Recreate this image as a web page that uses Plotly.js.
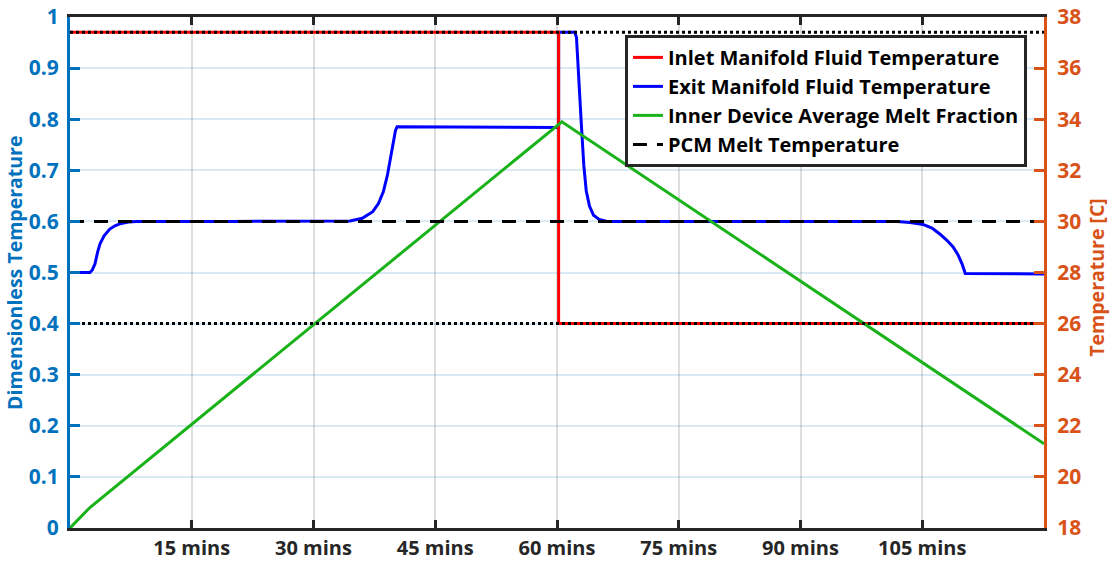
<!DOCTYPE html>
<html>
<head>
<meta charset="utf-8">
<script src="https://cdn.plot.ly/plotly-3.0.1.min.js"></script>
<style>html,body{margin:0;padding:0;background:#fff;}#chart{width:1110px;height:565px;}</style>
</head>
<body>
<div id="chart"></div>
<script>
// Time axis (minutes)
const xTickVals = [15, 30, 45, 60, 75, 90, 105];
const xTickText = ["15 mins", "30 mins", "45 mins", "60 mins", "75 mins", "90 mins", "105 mins"];

// Inlet manifold fluid temperature (dimensionless)
const inletT = [0, 60.2, 60.2, 120];
const inletV = [0.97, 0.97, 0.4, 0.4];

// Exit manifold fluid temperature (dimensionless)
const exitT = [0, 2.45, 2.75, 3.08, 3.4, 3.7, 4.2, 4.9, 5.6, 6.3, 7.2, 8.2, 20, 34.5,
  36.0, 37.3, 38.0, 38.6, 39.1, 39.4, 39.7, 39.9, 40.1, 40.3, 50, 60.2,
  60.2, 62.0, 62.2, 62.4, 62.6, 62.8, 63.0, 63.3, 63.6, 64.0, 64.5, 65.2, 66.2, 80, 95, 101.9,
  103.5, 105.1, 106.2, 107.2, 108.1, 108.8, 109.4, 109.9, 110.3, 120];
const exitV = [0.5, 0.5, 0.505, 0.517, 0.54, 0.556, 0.572, 0.585, 0.592, 0.596, 0.599, 0.6, 0.6, 0.601,
  0.606, 0.619, 0.635, 0.658, 0.69, 0.717, 0.745, 0.765, 0.778, 0.785, 0.785, 0.784,
  0.97, 0.97, 0.97, 0.96, 0.91, 0.84, 0.79, 0.71, 0.66, 0.63, 0.612, 0.604, 0.6, 0.6, 0.6, 0.6,
  0.598, 0.594, 0.587, 0.575, 0.562, 0.55, 0.535, 0.517, 0.498, 0.497];

// Inner device average melt fraction
const meltT = [0, 2.45, 60.6, 120];
const meltV = [0, 0.04, 0.795, 0.165];

// PCM melt temperature (deg C, right axis)
const pcmT = [0, 120];
const pcmC = [30, 30];

// Dotted reference levels (dimensionless)
const upperLimitV = [0.97, 0.97];
const lowerLimitV = [0.4, 0.4];
const limitT = [0, 120];

const FONT = "'Open Sans', sans-serif";
const BLUE_AX = "#0072BD";
const ORANGE_AX = "#D95319";

const traces = [
  {x: exitT, y: exitV, type: "scatter", mode: "lines", name: "Exit Manifold Fluid Temperature",
   line: {color: "#0000FF", width: 3}, legendrank: 2, hoverinfo: "skip"},
  {x: inletT, y: inletV, type: "scatter", mode: "lines", name: "Inlet Manifold Fluid Temperature",
   line: {color: "#FF0000", width: 3}, legendrank: 1, hoverinfo: "skip"},
  {x: meltT, y: meltV, type: "scatter", mode: "lines", name: "Inner Device Average Melt Fraction",
   line: {color: "#19B319", width: 3}, legendrank: 3, hoverinfo: "skip"},
  {x: limitT, y: upperLimitV, type: "scatter", mode: "lines", showlegend: false,
   line: {color: "#000000", width: 3, dash: "3px,3px"}, hoverinfo: "skip"},
  {x: limitT, y: lowerLimitV, type: "scatter", mode: "lines", showlegend: false,
   line: {color: "#000000", width: 3, dash: "3px,3px"}, hoverinfo: "skip"},
  {x: pcmT, y: pcmC, yaxis: "y2", type: "scatter", mode: "lines", name: "PCM Melt Temperature",
   line: {color: "#000000", width: 3, dash: "14px,10px"}, legendrank: 4, hoverinfo: "skip"}
];

const layout = {
  width: 1110, height: 565,
  margin: {l: 70, r: 66, t: 17, b: 37, pad: 0},
  paper_bgcolor: "#ffffff", plot_bgcolor: "#ffffff",
  font: {family: FONT, size: 19, color: "#262626", weight: "bold"},
  showlegend: true,
  legend: {
    x: 0.9825, xanchor: "right", y: 0.965, yanchor: "top",
    bgcolor: "#ffffff", bordercolor: "#262626", borderwidth: 3,
    font: {family: FONT, size: 20, color: "#000000", weight: "bold"},
    tracegroupgap: 0
  },
  xaxis: {
    range: [0, 120], tickvals: xTickVals, ticktext: xTickText,
    showgrid: true, gridcolor: "rgba(0,0,0,0.13)", gridwidth: 2,
    zeroline: false, showline: true, linecolor: "#262626", linewidth: 3,
    mirror: "ticks", ticks: "inside", ticklen: 8, tickwidth: 3, tickcolor: "#262626",
    tickfont: {family: FONT, size: 20, color: "#262626", weight: "bold"},
    ticklabeloverflow: "allow",
    fixedrange: true
  },
  yaxis: {
    range: [0, 1], dtick: 0.1, tick0: 0,
    showgrid: true, gridcolor: "rgba(0,114,189,0.15)", gridwidth: 2,
    zeroline: false, showline: true, linecolor: BLUE_AX, linewidth: 3,
    ticks: "inside", ticklen: 10, tickwidth: 3, tickcolor: BLUE_AX,
    tickfont: {family: FONT, size: 21, color: BLUE_AX, weight: "bold"},
    ticklabelstandoff: 4, ticklabeloverflow: "allow",
    fixedrange: true
  },
  yaxis2: {
    range: [18, 38], dtick: 2, tick0: 18, overlaying: "y", side: "right",
    showgrid: false, zeroline: false, showline: true, linecolor: ORANGE_AX, linewidth: 3,
    ticks: "inside", ticklen: 10, tickwidth: 3, tickcolor: ORANGE_AX,
    tickfont: {family: FONT, size: 21, color: ORANGE_AX, weight: "bold"},
    ticklabelstandoff: 6, ticklabeloverflow: "allow",
    fixedrange: true
  },
  annotations: [
    {text: "Dimensionless Temperature", xref: "paper", yref: "paper",
     x: -0.057, y: 0.5, xanchor: "center", yanchor: "middle", textangle: -90, showarrow: false,
     font: {family: FONT, size: 19.5, color: BLUE_AX, weight: "bold"}},
    {text: "Temperature [C]", xref: "paper", yref: "paper",
     x: 1.0545, y: 0.49, xanchor: "center", yanchor: "middle", textangle: -90, showarrow: false,
     font: {family: FONT, size: 19.5, color: ORANGE_AX, weight: "bold"}}
  ]
};

Plotly.newPlot("chart", traces, layout, {staticPlot: true, displayModeBar: false});
</script>
</body>
</html>
